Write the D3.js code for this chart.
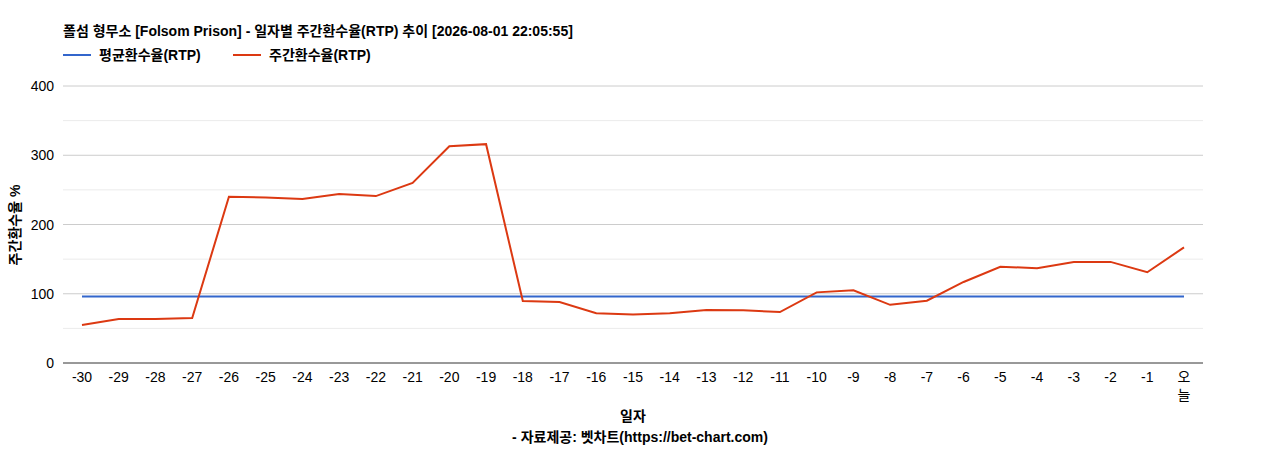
<!DOCTYPE html>
<html><head><meta charset="utf-8">
<script src="https://cdn.jsdelivr.net/npm/d3@7"></script>
<style>body{margin:0;background:#fff;font-family:"Liberation Sans","Noto Sans CJK KR",sans-serif}</style>
</head><body><svg id="c" width="1268" height="450"></svg>
<script>
const categories = ["-30","-29","-28","-27","-26","-25","-24","-23","-22","-21","-20","-19","-18","-17","-16","-15","-14","-13","-12","-11","-10","-9","-8","-7","-6","-5","-4","-3","-2","-1","오늘"];
const weeklyRTP = [55,63.5,63.5,65,240,239,237,244,241,260,313,316,89.5,88,72,70,72,76.5,76,73.5,102,105,84,90,117,139,137,146,146,131,167];
const avgRTP = categories.map(()=>96);
const yTicks = [0,100,200,300,400];
const minorTicks = [50,150,250,350];
const title = "폴섬 형무소 [Folsom Prison] - 일자별 주간환수율(RTP) 추이 [2026-08-01 22:05:55]";
const seriesNames = ["평균환수율(RTP)","주간환수율(RTP)"];
const colors = ["#3366cc","#dc3912"];

const svg = d3.select("#c");
const L=63,R=1203,T=86,B=363;
const x = d3.scalePoint().domain(categories).range([82,1184]);
const y = d3.scaleLinear().domain([0,400]).range([B,T]);
const font = '"Liberation Sans","Noto Sans CJK KR",sans-serif';

svg.append("text").attr("x",63).attr("y",36).attr("font-size",14).attr("font-weight","bold").attr("font-family",font).text(title);
seriesNames.forEach((n,i)=>{
  const lx = i===0?63:233;
  svg.append("line").attr("x1",lx).attr("x2",lx+28).attr("y1",55).attr("y2",55).attr("stroke",colors[i]).attr("stroke-width",2);
  svg.append("text").attr("x",lx+36).attr("y",60).attr("font-size",14).attr("font-weight","bold").attr("font-family",font).text(n);
});
minorTicks.forEach(t=>svg.append("line").attr("x1",L).attr("x2",R).attr("y1",y(t)).attr("y2",y(t)).attr("stroke","#ebebeb"));
yTicks.forEach(t=>{
  svg.append("line").attr("x1",L).attr("x2",R).attr("y1",y(t)).attr("y2",y(t)).attr("stroke",t===0?"#333":"#ccc");
  svg.append("text").attr("x",54).attr("y",y(t)+5).attr("text-anchor","end").attr("font-size",14).attr("font-family",font).text(t);
});
categories.forEach(c=>{
  if(c==="오늘"){
    svg.append("text").attr("x",x(c)).attr("y",382).attr("text-anchor","middle").attr("font-size",14).attr("font-family",font).text("오");
    svg.append("text").attr("x",x(c)).attr("y",400).attr("text-anchor","middle").attr("font-size",14).attr("font-family",font).text("늘");
  } else
    svg.append("text").attr("x",x(c)).attr("y",382).attr("text-anchor","middle").attr("font-size",14).attr("font-family",font).text(c);
});
const line = d3.line().x((d,i)=>x(categories[i])).y(d=>y(d));
svg.append("path").attr("d",line(avgRTP)).attr("fill","none").attr("stroke",colors[0]).attr("stroke-width",2);
svg.append("path").attr("d",line(weeklyRTP)).attr("fill","none").attr("stroke",colors[1]).attr("stroke-width",2);
svg.append("text").attr("x",633).attr("y",421).attr("text-anchor","middle").attr("font-size",14).attr("font-weight","bold").attr("font-family",font).text("일자");
svg.append("text").attr("x",640).attr("y",442).attr("text-anchor","middle").attr("font-size",14).attr("font-weight","bold").attr("font-family",font).text("- 자료제공: 벳차트(https://bet-chart.com)");
svg.append("text").attr("transform","translate(20,225) rotate(-90)").attr("text-anchor","middle").attr("font-size",14).attr("font-weight","bold").attr("font-family",font).text("주간환수율 %");
</script></body></html>
